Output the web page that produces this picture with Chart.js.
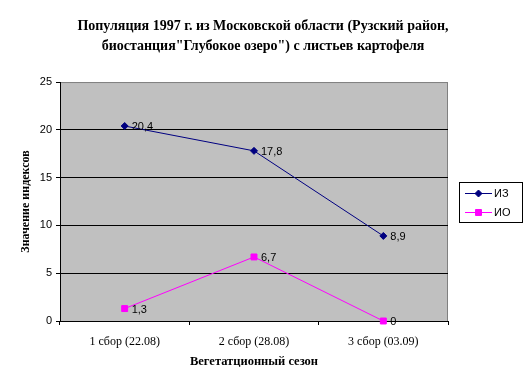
<!DOCTYPE html>
<html>
<head>
<meta charset="utf-8">
<script src="https://cdn.jsdelivr.net/npm/chart.js@4"></script>
<style>
  html, body { margin: 0; padding: 0; background: #fff; }
  #wrap { width: 526px; height: 390px; }
</style>
</head>
<body>
<div id="wrap"><canvas id="c" width="526" height="390"></canvas></div>
<script>
const titleLines = ['Популяция 1997 г. из Московской области (Рузский район,', 'биостанция"Глубокое озеро") с листьев картофеля'];
const categories = ['1 сбор (22.08)', '2 сбор (28.08)', '3 сбор (03.09)'];
const seriesNames = ['ИЗ', 'ИО'];
const valuesIZ = [20.4, 17.8, 8.9];
const valuesIO = [1.3, 6.7, 0];
const yTicks = [0, 5, 10, 15, 20, 25];
const xTitle = 'Вегетатционный сезон';
const yTitle = 'Значение индексов';

const colors = ['#000080', '#FF00FF'];
const styles = ['rectRot', 'rect'];
const radii = [3.5, 4.2];
const serif = '"Liberation Serif", "Times New Roman", serif';
const sans = '"Liberation Sans", Arial, sans-serif';

const fmt = v => String(v).replace('.', ',');

const plotBg = {
  id: 'plotBg',
  beforeDraw(chart) {
    const {ctx, chartArea: a} = chart;
    ctx.save();
    ctx.fillStyle = '#C0C0C0';
    ctx.fillRect(a.left, a.top, a.right - a.left, a.bottom - a.top);
    ctx.strokeStyle = '#808080';
    ctx.lineWidth = 1;
    ctx.strokeRect(a.left + 0.5, a.top + 0.5, a.right - a.left - 1, a.bottom - a.top);
    ctx.restore();
  }
};

const labelsAndLegend = {
  id: 'labelsAndLegend',
  afterDatasetsDraw(chart) {
    const ctx = chart.ctx;
    ctx.save();
    ctx.font = '11px ' + sans;
    ctx.fillStyle = '#000';
    ctx.textAlign = 'left';
    ctx.textBaseline = 'middle';
    chart.data.datasets.forEach((ds, di) => {
      const meta = chart.getDatasetMeta(di);
      meta.data.forEach((pt, i) => {
        ctx.fillText(fmt(ds.data[i]), pt.x + 7, pt.y + 1);
      });
    });
    // legend box
    const bx = 459.5, by = 182.5, bw = 63, bh = 40;
    ctx.fillStyle = '#fff';
    ctx.fillRect(bx, by, bw, bh);
    ctx.strokeStyle = '#000';
    ctx.lineWidth = 1;
    ctx.strokeRect(bx, by, bw, bh);
    chart.data.datasets.forEach((ds, di) => {
      const y = 193 + di * 19;
      ctx.strokeStyle = colors[di];
      ctx.beginPath();
      ctx.moveTo(465, y + 0.5);
      ctx.lineTo(492, y + 0.5);
      ctx.stroke();
      ctx.fillStyle = colors[di];
      Chart.helpers.drawPoint(ctx, {pointStyle: styles[di], radius: radii[di], borderWidth: 1}, 478.5, y + 0.5);
      ctx.fillStyle = '#000';
      ctx.font = '11px ' + sans;
      ctx.fillText(seriesNames[di], 494, y + 1);
    });
    ctx.restore();
  }
};

new Chart(document.getElementById('c'), {
  type: 'line',
  data: {
    labels: categories,
    datasets: [valuesIZ, valuesIO].map((vals, i) => ({
      label: seriesNames[i],
      data: vals,
      borderColor: colors[i],
      backgroundColor: colors[i],
      borderWidth: 1,
      pointStyle: styles[i],
      pointRadius: radii[i],
      pointBorderWidth: 1,
      tension: 0,
      fill: false,
      clip: false,
      yAxisID: 'y'
    }))
  },
  options: {
    responsive: false,
    animation: false,
    devicePixelRatio: 1,
    layout: { padding: 0 },
    plugins: {
      legend: { display: false },
      tooltip: { enabled: false },
      title: {
        display: true,
        text: titleLines,
        color: '#000',
        font: { family: serif, size: 14, weight: 'bold', lineHeight: 1.43 },
        padding: { top: 16, bottom: 26 }
      }
    },
    scales: {
      x: {
        offset: true,
        afterFit(s) { s.height = 69; },
        grid: { offset: true, drawOnChartArea: false, color: '#000', tickColor: '#000', tickLength: 4 },
        border: { color: '#000', width: 1 },
        ticks: { color: '#000', padding: 10, maxRotation: 0, font: { family: serif, size: 12 } },
        title: {
          display: true, text: xTitle, color: '#000',
          font: { family: serif, size: 12.5, weight: 'bold' },
          padding: { top: 0, bottom: 21 }
        }
      },
      y: {
        min: 0, max: 25,
        afterFit(s) { s.width = 60; },
        afterBuildTicks(s) { s.ticks = yTicks.map(v => ({ value: v })); },
        grid: {
          color: c => (c.tick && c.tick.value === 25) ? 'rgba(0,0,0,0)' : '#000',
          tickColor: '#000', tickLength: 4
        },
        border: { color: '#000', width: 1 },
        ticks: { color: '#000', padding: 4, font: { family: sans, size: 11 } },
        title: {
          display: true, text: yTitle, color: '#000',
          font: { family: serif, size: 12, weight: 'bold' },
          padding: { top: 19, bottom: 0 }
        }
      },
      spacer: {
        type: 'linear',
        position: 'right',
        afterFit(s) { s.width = 78; },
        grid: { display: false, drawOnChartArea: false },
        border: { display: false },
        ticks: { display: false }
      }
    }
  },
  plugins: [plotBg, labelsAndLegend]
});
</script>
</body>
</html>
